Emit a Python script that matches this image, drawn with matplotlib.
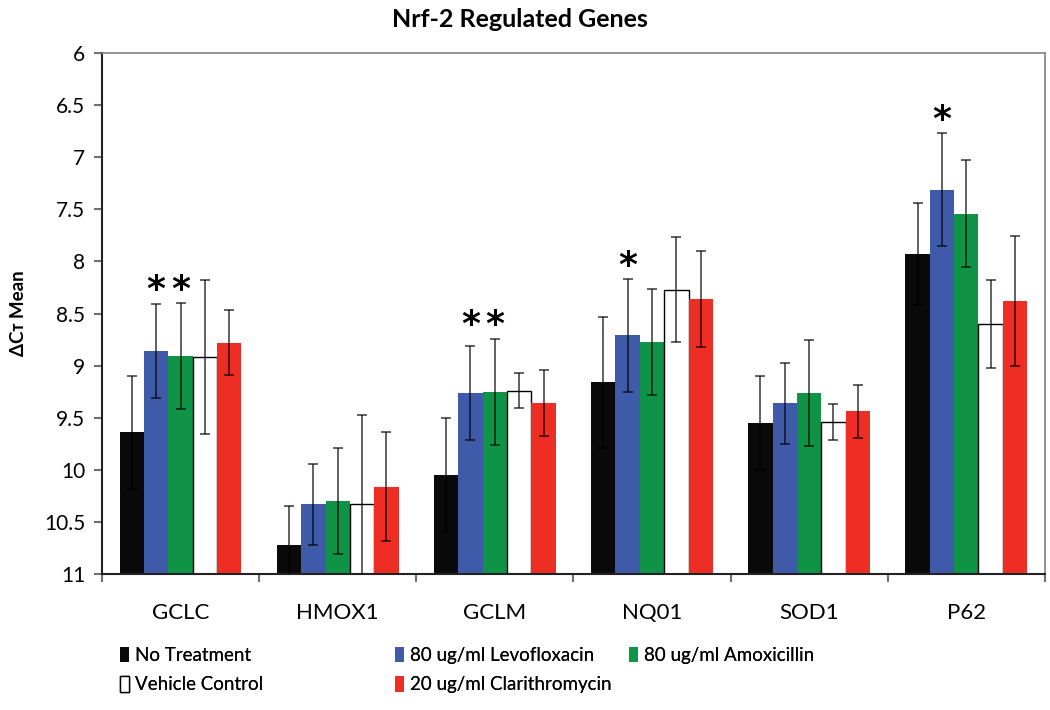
import matplotlib.pyplot as plt
import numpy as np

plt.rcParams['font.family'] = ['Lato', 'DejaVu Sans']

genes = ['GCLC', 'HMOX1', 'GCLM', 'NQ01', 'SOD1', 'P62']
series = ['No Treatment', '80 ug/ml Levofloxacin', '80 ug/ml Amoxicillin',
          'Vehicle Control', '20 ug/ml Clarithromycin']

# dCt means per series (order matches genes)
no_treat = [9.64, 10.72, 10.05, 9.16, 9.55, 7.93]
levo = [8.86, 10.33, 9.26, 8.71, 9.36, 7.31]
amox = [8.91, 10.30, 9.25, 8.77, 9.26, 7.54]
vehicle = [8.92, 10.33, 9.24, 8.27, 9.54, 8.60]
clari = [8.78, 10.16, 9.36, 8.36, 9.44, 8.38]

# error bars
no_treat_err = [0.54, 0.37, 0.55, 0.63, 0.45, 0.49]
levo_err = [0.45, 0.39, 0.45, 0.54, 0.39, 0.54]
amox_err = [0.51, 0.51, 0.51, 0.51, 0.51, 0.51]
vehicle_err = [0.74, 0.86, 0.17, 0.50, 0.17, 0.42]
clari_err = [0.31, 0.52, 0.32, 0.46, 0.25, 0.62]

# significance stars: (gene index, series index)
stars = [(0, 1), (0, 2), (2, 1), (2, 2), (3, 1), (5, 1)]

values = [no_treat, levo, amox, vehicle, clari]
errors = [no_treat_err, levo_err, amox_err, vehicle_err, clari_err]
colors = ['#0a0a0a', '#3f5aa8', '#0f9447', '#ffffff', '#ee2e24']
edges = ['#0a0a0a', '#3f5aa8', '#0f9447', '#000000', '#ee2e24']

fig = plt.figure(figsize=(10.5, 7.1), dpi=100)
ax = fig.add_axes([0.0971, 0.1915, 0.898, 0.7338])

x = np.arange(len(genes))
w = 0.155
base = 11
handles = []
for i in range(len(series)):
    xs = x + (i - 2) * w
    v = np.array(values[i])
    b = ax.bar(xs, v - base, bottom=base, width=w, color=colors[i],
               edgecolor=edges[i], linewidth=1.0 if i == 3 else 0,
               label=series[i], zorder=2)
    handles.append(b)
    ax.errorbar(xs, v, yerr=errors[i], fmt='none', ecolor='#000000',
                alpha=0.62, elinewidth=1.4, capsize=3.5, capthick=1.4, zorder=3)

for g, s in stars:
    cand = [values[k][g] - errors[k][g] for k in (1, 2) if (g, k) in stars]
    top = min(cand)
    ax.text(x[g] + (s - 2) * w, top - 0.13, '*', ha='center', va='center',
            fontsize=26, fontweight='bold', family='DejaVu Sans', zorder=4)

ax.set_xlim(-0.5, 5.5)
ax.set_ylim(11, 6)
ax.set_yticks(np.arange(6, 11.01, 0.5))
ax.set_yticklabels(['%g' % t for t in np.arange(6, 11.01, 0.5)])
ax.set_xticks(x)
ax.set_xticklabels(genes)
ax.set_xticks(np.arange(-0.5, 5.6, 1), minor=True)
ax.tick_params(axis='x', which='major', length=0, pad=21, labelsize=16)
ax.tick_params(axis='x', which='minor', length=6, color='#707070', width=1.5)
ax.tick_params(axis='y', length=6, color='#707070', width=1.5, labelsize=15, pad=6)

for sp in ['left', 'bottom']:
    ax.spines[sp].set_color('#222222')
    ax.spines[sp].set_linewidth(1.5)
for sp in ['top', 'right']:
    ax.spines[sp].set_color('#808080')
    ax.spines[sp].set_linewidth(1.2)

ax.set_ylabel('ΔCᴛ Mean', fontsize=13.5, fontweight='bold', labelpad=12)
fig.text(0.495, 0.972, 'Nrf-2 Regulated Genes', ha='center', va='center',
         fontsize=18, fontweight='bold')

# legend in three columns placed like the original
cols = [[0, 3], [1, 4], [2]]
anchors = [0.107, 0.369, 0.592]
for c, a in zip(cols, anchors):
    leg = fig.legend([handles[k] for k in c], [series[k] for k in c],
                     loc='upper left', bbox_to_anchor=(a, 0.1), frameon=False,
                     fontsize=13.5, handlelength=0.5, handleheight=0.9,
                     handletextpad=0.3, labelspacing=0.65, borderaxespad=0)
    fig.add_artist(leg)

fig.savefig('out.png', dpi=100)
